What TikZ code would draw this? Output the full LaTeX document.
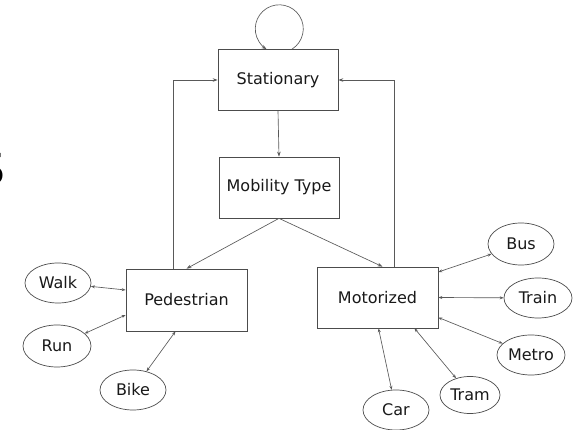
\documentclass[tikz,border=0pt]{standalone}
\usepackage{fontspec}
\setmainfont{DejaVu Sans}
\usetikzlibrary{shapes.geometric,arrows.meta}
\begin{document}
\begin{tikzpicture}[x=1pt,y=1pt,
 box/.style={draw=black!70, line width=0.7pt, minimum width=120pt, minimum height=61pt, inner sep=0pt, font=\fontsize{16}{19}\selectfont, text=black!90},
 oval/.style={ellipse, draw=black!70, line width=0.7pt, minimum width=66pt, minimum height=40pt, inner sep=0pt, font=\fontsize{16}{19}\selectfont, text=black!90},
 arr/.style={draw=black!65, line width=0.65pt, -{Stealth[length=5pt,width=3.5pt]}},
 biarr/.style={draw=black!65, line width=0.65pt, {Stealth[length=4pt,width=3pt]}-{Stealth[length=4pt,width=3pt]}}]
\useasboundingbox (0,0) rectangle (574,-430);
\fill[white] (0,0) rectangle (574,-430);
\node[anchor=base east, inner sep=0pt, font=\fontsize{44}{44}\selectfont] (sl) at (5.5,-185) {S};
\node[box] (st) at (278,-80) {Stationary};
\node[box] (mob) at (279,-187.5) {Mobility Type};
\node[box, minimum width=121pt, minimum height=62pt] (ped) at (186.5,-300) {Pedestrian};
\node[box, minimum width=121pt] (mot) at (377.5,-297.5) {Motorized};
\node[oval] (walk) at (58,-283) {Walk};
\node[oval, minimum width=68pt, minimum height=42pt] (run) at (57,-346) {Run};
\node[oval] (bike) at (133,-390) {Bike};
\node[oval, minimum height=42pt] (bus) at (521,-244) {Bus};
\node[oval, minimum width=68pt] (train) at (538,-298) {Train};
\node[oval, minimum width=68pt] (metro) at (531,-355) {Metro};
\node[oval, minimum width=60pt, minimum height=37pt] (tram) at (470,-395) {Tram};
\node[oval] (car) at (396,-410) {Car};
% self loop
\draw[arr] ([xshift=14pt]st.north) arc[start angle=-58, end angle=238, radius=24pt];
% main flow
\draw[arr] (st.south) -- (mob.north);
\draw[arr] (mob.south) -- (ped.north);
\draw[arr] (mob.south) -- ([xshift=5pt]mot.north);
\draw[arr] ([xshift=-13.5pt]ped.north) |- (st.west);
\draw[arr] ([xshift=16.5pt]mot.north) |- (st.east);
% pedestrian modes
\draw[biarr] (walk) -- ([yshift=10pt]ped.west);
\draw[biarr] (run) -- ([yshift=-15pt]ped.west);
\draw[biarr] (bike) -- ([xshift=-11pt]ped.south);
% motorized modes
\draw[biarr] (bus) -- ([yshift=25.5pt]mot.east);
\draw[biarr] (train) -- (mot.east);
\draw[biarr] (metro) -- ([yshift=-20pt]mot.east);
\draw[biarr] (tram) -- ([xshift=37pt]mot.south);
\draw[biarr] (car) -- ([xshift=1pt]mot.south);
\end{tikzpicture}
\end{document}
